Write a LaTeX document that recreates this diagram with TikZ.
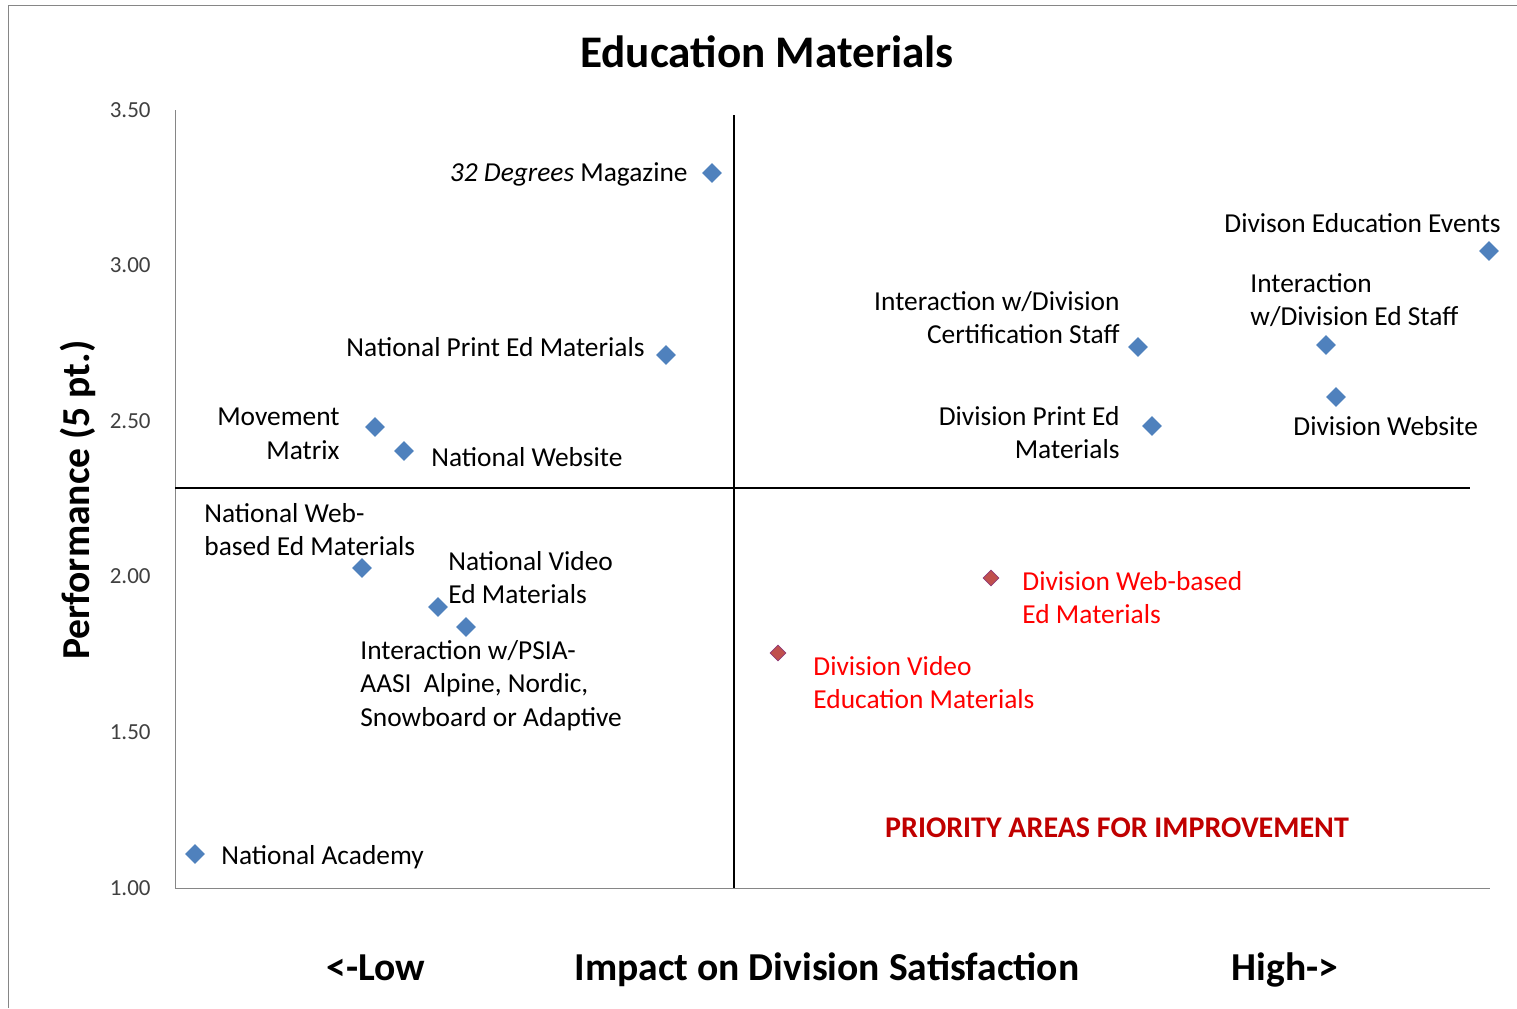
\documentclass[tikz,border=0pt]{standalone}
\usepackage{fontspec}
\setmainfont{Carlito}
\usetikzlibrary{shapes.geometric}
\definecolor{ptblue}{HTML}{4F81BD}
\definecolor{ptred}{HTML}{C0504D}
\definecolor{axisgray}{HTML}{868686}
\definecolor{prioityred}{HTML}{C00000}
\tikzset{
  bluept/.style={diamond,fill=ptblue,inner sep=0pt,minimum size=10pt},
  redpt/.style={diamond,fill=ptred,draw=ptred!75!blue,line width=0.3pt,inner sep=0pt,minimum size=8pt},
  lbl/.style={inner sep=0pt,font=\fontsize{13.7}{16.75}\selectfont},
  redlbl/.style={lbl,text=red},
  bigbold/.style={inner sep=0pt,font=\bfseries\fontsize{19.8}{23}\selectfont}
}
\begin{document}
\begin{tikzpicture}[x=0.5pt,y=-0.5pt]
\useasboundingbox (0,0) rectangle (1517,1008);
\draw[axisgray] (8,1008) -- (8,5) -- (1517,5); % outer frame
% axes
\draw[axisgray] (175,110) -- (175,888) -- (1490,888);
\foreach \t [count=\i from 0] in {1.00,1.50,2.00,2.50,3.00,3.50} % edit here for the ticks
\node[anchor=base east,inner sep=0pt,text=black!75,font=\fontsize{11.5}{14}\selectfont] (tick\i) at (151,895-\i*155.6) {\t};
% quadrants
\draw[line width=1pt] (734,115) -- (734,888);
\draw[line width=1pt] (175,488) -- (1470,488);
% titles
\node[anchor=base,inner sep=0pt,font=\bfseries\fontsize{22.6}{26}\selectfont] (title) at (767,67) {Education Materials};
\node[anchor=base,rotate=90,inner sep=0pt,font=\bfseries\fontsize{19.8}{23}\selectfont] (ylab) at (90,500) {Performance (5 pt.)};
\node[bigbold,anchor=base] (low) at (376,980) {<-Low};
\node[bigbold,anchor=base] (xlab) at (827,980) {Impact on Division Satisfaction};
\node[bigbold,anchor=base] (high) at (1285,980) {High->};
\node[anchor=base,inner sep=0pt,text=prioityred,font=\bfseries\fontsize{15}{18}\selectfont] (prio) at (1117,837) {PRIORITY AREAS FOR IMPROVEMENT};
% points
\node[bluept] (mag) at (712,173) {};
\node[bluept] (nprint) at (666,355) {};
\node[bluept] (matrix) at (375,427) {};
\node[bluept] (nweb) at (404,451) {};
\node[bluept] (nwebed) at (362,568) {};
\node[bluept] (nvideo) at (438,607) {};
\node[bluept] (psia) at (466,627) {};
\node[bluept] (nacad) at (195,854) {};
\node[bluept] (events) at (1489,251) {};
\node[bluept] (cert) at (1138,347) {};
\node[bluept] (edstaff) at (1326,345) {};
\node[bluept] (dweb) at (1336,397) {};
\node[bluept] (dprint) at (1152,426) {};
\node[redpt] (dwebed) at (991,578) {};
\node[redpt] (dvideo) at (778,653) {};
% labels
\node[lbl,anchor=base east] (magtxt) at (688,181) {\textit{32 Degrees} Magazine};
\node[lbl,anchor=base east] (nprinttxt) at (645,356) {National Print Ed Materials};
\node[lbl,anchor=north east,align=right] (matrixtxt) at (340,408) {Movement\\Matrix};
\node[lbl,anchor=base west] (nwebtxt) at (431,466) {National Website};
\node[lbl,anchor=north west,align=left] (nwebedtxt) at (204,503) {National Web-\\based Ed Materials};
\node[lbl,anchor=north west,align=left] (nvideotxt) at (448,551) {National Video\\Ed Materials};
\node[lbl,anchor=north west,align=left] (psiatxt) at (360,640) {Interaction w/PSIA-\\AASI\ \ Alpine, Nordic,\\Snowboard or Adaptive};
\node[lbl,anchor=base west] (nacadtxt) at (221,864) {National Academy};
\node[lbl,anchor=base west] (eventstxt) at (1224,232) {Divison Education Events};
\node[lbl,anchor=north east,align=right] (certtxt) at (1120,291) {Interaction w/Division\\Certification Staff};
\node[lbl,anchor=north west,align=left] (edstafftxt) at (1250,273) {Interaction\\w/Division Ed Staff};
\node[lbl,anchor=base west] (dwebtxt) at (1293,435) {Division Website};
\node[lbl,anchor=north east,align=right] (dprinttxt) at (1120,406) {Division Print Ed\\Materials};
\node[redlbl,anchor=north west,align=left] (dwebedtxt) at (1022,571) {Division Web-based\\Ed Materials};
\node[redlbl,anchor=north west,align=left] (dvideotxt) at (813,656) {Division Video\\Education Materials};
\end{tikzpicture}
\end{document}
